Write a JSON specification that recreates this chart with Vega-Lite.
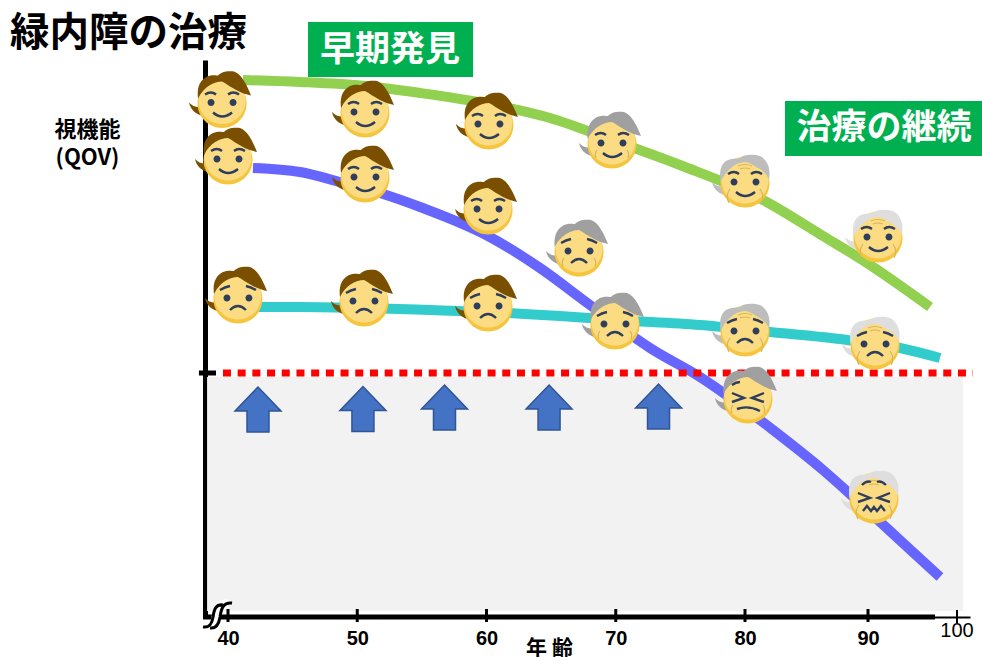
{"$schema":"https://vega.github.io/schema/vega-lite/v6.json","width":765,"height":557,"padding":{"left":205,"top":60,"right":12,"bottom":40},"autosize":"none","background":"white","view":{"stroke":null},
"title":{"text":"緑内障の治療","anchor":"start","frame":"group","dx":-195,"offset":-71,"font":"Noto Sans CJK JP","fontSize":39.5,"fontWeight":700,"color":"#000000","baseline":"bottom"},
"resolve":{"scale":{"shape":"independent"}},
"datasets":{
"faces":[
{"curve":"green","age":39.54,"v":102.7,"hair":"brown","expr":"smile"},{"curve":"green","age":50.6,"v":100.8,"hair":"brown","expr":"smile"},{"curve":"green","age":60.19,"v":98.4,"hair":"brown","expr":"smile"},{"curve":"green","age":69.71,"v":94.6,"hair":"dark","expr":"smile"},{"curve":"green","age":80,"v":86.8,"hair":"mid","expr":"smile"},{"curve":"green","age":91.12,"v":75.8,"hair":"light","expr":"smile"},
{"curve":"blue","age":40,"v":91.4,"hair":"brown","expr":"smile"},{"curve":"blue","age":50.6,"v":87.8,"hair":"brown","expr":"smile"},{"curve":"blue","age":60.12,"v":81.4,"hair":"brown","expr":"smile"},{"curve":"blue","age":67.16,"v":73,"hair":"dark","expr":"frown"},{"curve":"blue","age":80.24,"v":43.6,"hair":"dark","expr":"pain"},{"curve":"blue","age":90.67,"v":23.6,"hair":"light","expr":"pain2"},
{"curve":"teal","age":40.77,"v":63.6,"hair":"brown","expr":"frown"},{"curve":"teal","age":50.52,"v":63,"hair":"brown","expr":"frown"},{"curve":"teal","age":60.12,"v":62,"hair":"brown","expr":"frown"},{"curve":"teal","age":69.94,"v":58.4,"hair":"dark","expr":"frown"},{"curve":"teal","age":80,"v":57,"hair":"mid","expr":"frown"},{"curve":"teal","age":90.79,"v":54.4,"hair":"light","expr":"frown"}
],
"curves":[
{"curve":"green","age":41.16,"v":107.4},{"curve":"green","age":45.57,"v":107},{"curve":"green","age":50.6,"v":106.2},{"curve":"green","age":54.86,"v":104.8},{"curve":"green","age":60.19,"v":102.6},{"curve":"green","age":64.91,"v":99.8},{"curve":"green","age":69.71,"v":95.4},{"curve":"green","age":74.97,"v":90.4},{"curve":"green","age":81.46,"v":83.4},{"curve":"green","age":86.34,"v":76.2},{"curve":"green","age":89.92,"v":70.8},{"curve":"green","age":96.97,"v":62},
{"curve":"blue","age":41.93,"v":89.8},{"curve":"blue","age":45.57,"v":89},{"curve":"blue","age":48.67,"v":87},{"curve":"blue","age":51.76,"v":84.8},{"curve":"blue","age":54.86,"v":82},{"curve":"blue","age":60.12,"v":76.2},{"curve":"blue","age":64.14,"v":69.8},{"curve":"blue","age":68.01,"v":62.4},{"curve":"blue","age":72.65,"v":53.8},{"curve":"blue","age":76.52,"v":48},{"curve":"blue","age":82.28,"v":37.4},{"curve":"blue","age":86.34,"v":29.4},{"curve":"blue","age":88.54,"v":24.6},{"curve":"blue","age":91.01,"v":19.6},{"curve":"blue","age":93.93,"v":14.8},{"curve":"blue","age":98.09,"v":8},
{"curve":"teal","age":40.93,"v":62},{"curve":"teal","age":45.57,"v":62},{"curve":"teal","age":50.6,"v":61.8},{"curve":"teal","age":55.63,"v":61.4},{"curve":"teal","age":60.12,"v":61},{"curve":"teal","age":65.69,"v":60.2},{"curve":"teal","age":69.94,"v":59.4},{"curve":"teal","age":76.52,"v":58.4},{"curve":"teal","age":82.03,"v":57},{"curve":"teal","age":88.29,"v":55.4},{"curve":"teal","age":93.6,"v":53.8},{"curve":"teal","age":98.09,"v":51.8}
]},
"encoding":{
"x":{"field":"age","type":"quantitative","scale":{"domain":[38.22,40,80,90,100,101.46],"range":[0,23,540,663,752,765],"nice":false,"zero":false},
"axis":{"values":[40,50,60,70,80,90],"format":"d","grid":false,"ticks":false,"domainWidth":2,"domainColor":"#000000","labelFont":"Liberation Sans","labelFontWeight":"bold","labelFontSize":20,"labelColor":"#000000","labelPadding":11,"labelFlush":false,"labelOverlap":false,"title":"年 齢","titleFont":"Noto Sans CJK JP","titleFontSize":21,"titleFontWeight":700,"titleColor":"#000000","titleX":344,"titleY":31,"titleBaseline":"middle","titleAnchor":"middle"}},
"y":{"field":"v","type":"quantitative","scale":{"domain":[0,111.4],"nice":false,"zero":false},
"axis":{"grid":false,"ticks":false,"labels":false,"domainWidth":5,"domainColor":"#000000","title":["視機能","(QOV)"],"titleFont":"Noto Sans CJK JP","titleFontSize":22,"titleFontWeight":700,"titleColor":"#000000","titleAngle":0,"titleAlign":"center","titleBaseline":"middle","titleX":-118,"titleY":69,"titleLineHeight":28}}
},
"layer":[
{"data":{"values":[{"age":38.38,"age2":100.67,"v":48,"v2":1.2}]},"mark":{"type":"rect","fill":"#F2F2F2"},"encoding":{"x2":{"field":"age2"},"y2":{"field":"v2"}}},
{"data":{"values":[{"age":46.19,"age2":58.96,"v":119,"v2":108},{"age":83.25,"age2":102.81,"v":103.2,"v2":92.2}]},"mark":{"type":"rect","fill":"#00B050"},"encoding":{"x2":{"field":"age2"},"y2":{"field":"v2"}}},
{"data":{"values":[{"age":52.53,"v":113.4,"label":"早期発見"},{"age":91.8,"v":97.8,"label":"治療の継続"}]},"mark":{"type":"text","font":"Noto Sans CJK JP","fontSize":35,"fontWeight":700,"color":"#FFFFFF","align":"center","baseline":"middle"},"encoding":{"text":{"field":"label"}}},
{"data":{"name":"curves"},"mark":{"type":"line","strokeWidth":10,"interpolate":"monotone","strokeCap":"butt"},"encoding":{"stroke":{"field":"curve","type":"nominal","legend":null,"scale":{"domain":["green","blue","teal"],"range":["#92D050","#6666FF","#33CCCC"]}}}},
{"data":{"values":[{"age":39.61,"age2":101.8,"v":48.8}]},"mark":{"type":"rule","stroke":"#FF0000","strokeWidth":7,"strokeDash":[8,6.7]},"encoding":{"x2":{"field":"age2"}}},
{"data":{"values":[{"age":37.75,"age2":39.07,"v":48.8},{"age":38.07,"age2":97.53,"v":0}]},"mark":{"type":"rule","stroke":"#000000","strokeWidth":5},"encoding":{"x2":{"field":"age2"}}},
{"data":{"values":[{"age":40,"v":1.6,"v2":-1},{"age":50,"v":1.6,"v2":-1},{"age":60,"v":1.6,"v2":-1},{"age":70,"v":1.6,"v2":-1},{"age":80,"v":1.6,"v2":-1},{"age":90,"v":1.6,"v2":-1}]},"mark":{"type":"rule","stroke":"#000000","strokeWidth":3},"encoding":{"y2":{"field":"v2"}}},
{"data":{"values":[{"age":100,"v":1.4,"v2":-1.2}]},"mark":{"type":"rule","stroke":"#000000","strokeWidth":2},"encoding":{"y2":{"field":"v2"}}},
{"data":{"values":[{"age":100,"v":-2.8,"label":"100"}]},"mark":{"type":"text","font":"Liberation Sans","fontSize":20,"color":"#000000","align":"center","baseline":"middle"},"encoding":{"text":{"field":"label"}}},
{"data":{"values":[{"age":39.23,"v":0.4}]},"mark":{"type":"point","filled":false,"size":4,"stroke":"#FFFFFF","strokeWidth":9,"opacity":1,"shape":"M-12,13 C-4,14 -3,8 -2,2 C-1,-6 1,-12 10,-11"}},
{"data":{"values":[{"age":39.23,"v":0.4}]},"mark":{"type":"point","filled":false,"size":4,"stroke":"#000000","strokeWidth":3,"opacity":1,"shape":"M-15,12 C-8,13 -6,8 -5,2 C-4,-6 -2,-11 5,-10 M-8,13 C-1,14 1,8 2,2 C3,-6 5,-13 14,-12"}},
{"data":{"values":[{"age":42.32,"v":41.5},{"age":50.44,"v":41.6},{"age":56.75,"v":41.9},{"age":64.84,"v":41.9},{"age":73.31,"v":42.1}]},"mark":{"type":"point","filled":true,"size":4,"fill":"#4472C4","stroke":"#2F5597","strokeWidth":1.5,"opacity":1,"shape":"M0,-22.5 L23,1.5 L11,1.5 L11,22.5 L-11,22.5 L-11,1.5 L-23,1.5 Z"}},
{"data":{"name":"faces"},"mark":{"type":"point","filled":true,"size":4,"opacity":1,"shape":"M-33,-1 C-32,4 -29,9 -21,12 L-20,2 C-25,5 -29,3 -33,-1 Z"},"encoding":{"fill":{"field":"hair","type":"nominal","legend":null,"scale":{"domain":["brown","dark","mid","light"],"range":["#7A5000","#A0A0A0","#BDBDBD","#DEDEDE"]}}}},
{"data":{"name":"faces"},"mark":{"type":"point","filled":true,"size":4,"opacity":1,"fill":"#F6C53E","shape":"M-24.5,0 A24.5,24.5 0 1 1 24.5,0 A24.5,24.5 0 1 1 -24.5,0 Z"}},
{"data":{"name":"faces"},"mark":{"type":"point","filled":true,"size":4,"opacity":1,"fill":"#FBDC82","shape":"M-23.5,-3 A23.5,23.5 0 1 1 23.5,-3 A23.5,23.5 0 1 1 -23.5,-3 Z"}},
{"data":{"name":"faces"},"mark":{"type":"point","filled":false,"size":4,"opacity":1,"stroke":"#D9B45A","strokeWidth":1.2},"encoding":{"shape":{"field":"hair","type":"nominal","legend":null,"scale":{"domain":["brown","dark","mid","light"],"range":["M0,0","M-15,6 Q-18,10 -16,14 M15,6 Q18,10 16,14","M-15,6 Q-20,13 -16,20 M15,6 Q20,13 16,20 M-7,-17 Q0,-20 7,-17 M-5,-14 Q0,-16 5,-14","M-15,6 Q-20,13 -16,20 M15,6 Q20,13 16,20 M-7,-17 Q0,-20 7,-17 M-5,-14 Q0,-16 5,-14"]}}}},
{"data":{"name":"faces"},"mark":{"type":"point","filled":true,"size":4,"opacity":1},"encoding":{"fill":{"field":"hair","type":"nominal","legend":null,"scale":{"domain":["brown","dark","mid","light"],"range":["#7A5000","#A0A0A0","#BDBDBD","#DEDEDE"]}},"shape":{"field":"hair","type":"nominal","legend":null,"scale":{"domain":["brown","dark","mid","light"],"range":["M-24,-5 C-25,-14 -24,-22 -15,-27 C-10,-29 -6,-28 -4,-28 C-1,-32 6,-33 12,-32 C20,-29 25,-18 29,-8 C24,-9 19,-11 15,-13 C9,-16 4,-20 0,-22 C-8,-22 -18,-17 -24,-5 Z","M-24.5,-5 C-25,-14 -24,-22 -15,-27 C-10,-29 -6,-28 -4,-28 C-1,-32 6,-33 12,-32 C20,-29 25,-18 29,-8 C24,-9 19,-11 15,-13 C9,-16 4,-20 0,-22 C-8,-22 -18,-17 -24.5,-5 Z","M-24.5,-1 C-26,-12 -24,-20 -17,-23 C-12,-25 -8,-24 -5,-25 C-1,-29 8,-29 15,-27 C23,-23 26,-13 24,-4 C21,-10 17,-13 13,-15 C8,-18 4,-21 -1,-21 C-10,-20 -19,-13 -24.5,-1 Z","M-24.5,-1 C-26,-12 -24,-20 -17,-23 C-12,-25 -8,-24 -5,-25 C-1,-29 8,-29 15,-27 C23,-23 26,-13 24,-4 C21,-10 17,-13 13,-15 C8,-18 4,-21 -1,-21 C-10,-20 -19,-13 -24.5,-1 Z"]}}}},
{"data":{"name":"faces"},"mark":{"type":"point","filled":true,"size":4,"opacity":1,"fill":"#2F3E5C"},"encoding":{"shape":{"field":"expr","type":"nominal","legend":null,"scale":{"domain":["smile","frown","pain","pain2"],"range":["M-14.5,-1 A3.5,3.5 0 1 1 -7.5,-1 A3.5,3.5 0 1 1 -14.5,-1 Z M7.5,-1 A3.5,3.5 0 1 1 14.5,-1 A3.5,3.5 0 1 1 7.5,-1 Z","M-14.5,-1 A3.5,3.5 0 1 1 -7.5,-1 A3.5,3.5 0 1 1 -14.5,-1 Z M7.5,-1 A3.5,3.5 0 1 1 14.5,-1 A3.5,3.5 0 1 1 7.5,-1 Z","M0,0","M0,0"]}}}},
{"data":{"name":"faces"},"mark":{"type":"point","filled":false,"size":4,"opacity":1,"stroke":"#2F3E5C","strokeWidth":2.4},"encoding":{"shape":{"field":"expr","type":"nominal","legend":null,"scale":{"domain":["smile","frown","pain","pain2"],"range":["M-17,-9 Q-11,-13 -6,-9 M6,-9 Q11,-13 17,-9 M-9,9 Q0,17 10,9","M-18,-9 Q-13,-12 -8,-13 M8,-13 Q13,-12 18,-9 M-8,11 Q0,3 8,11","M-16,-14 Q-12,-17 -8,-17 M-16,-6 L-4,-1 L-16,3 M16,-6 L4,-1 L16,3 M-11,10 Q0,6 12,12","M-12,-14 Q-7,-19 -3,-17 M12,-14 Q7,-19 3,-17 M-16,-6 L-4,-1 L-16,3 M16,-6 L4,-1 L16,3 M-11,12 L-7,7 L-3,12 L0,8 L3,12 L7,7 L11,12"]}}}}
]}
